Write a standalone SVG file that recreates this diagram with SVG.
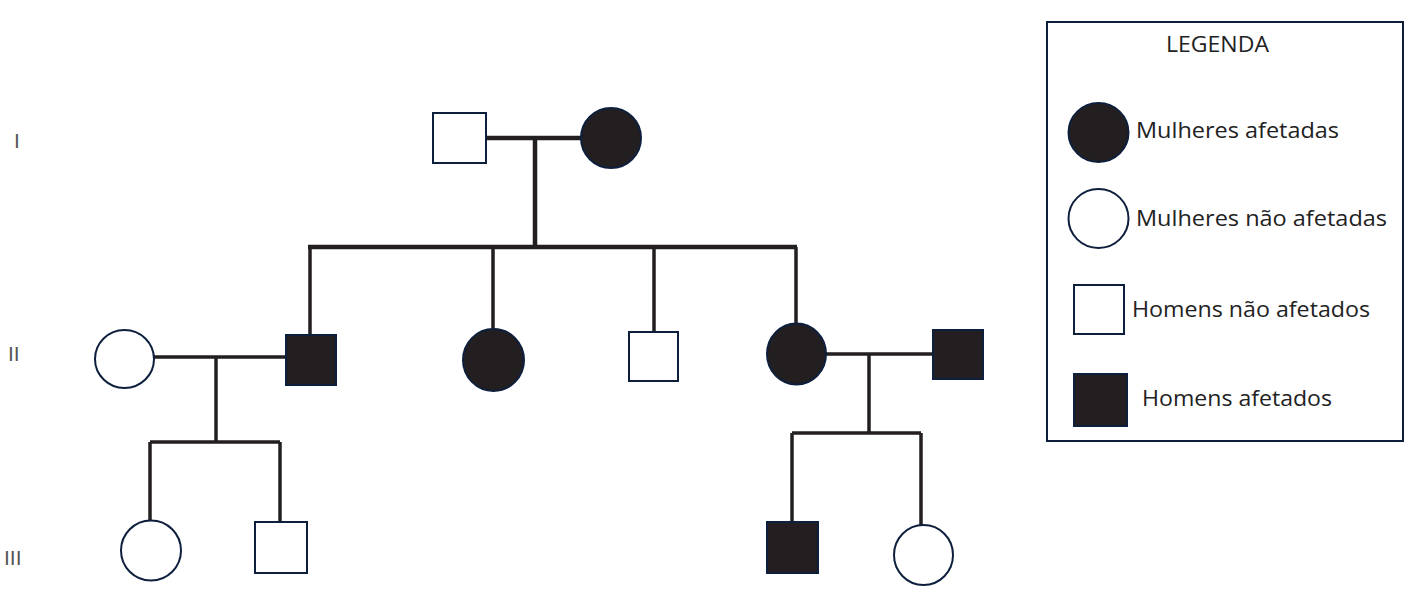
<svg xmlns="http://www.w3.org/2000/svg" width="1408" height="597" viewBox="0 0 1408 597">
<style>
.line{stroke:#231f20;stroke-width:3.5;fill:none;stroke-linecap:butt}
.thick{stroke-width:4.5}
.aff{fill:#231f20;stroke:#0d1f3c;stroke-width:2}
.un{fill:#ffffff;stroke:#0d1f3c;stroke-width:2}
.lbl{font-family:"Open Sans","Liberation Sans",sans-serif;font-size:21.5px;fill:#222}
.gen{font-family:"Liberation Sans",sans-serif;font-size:21px;fill:#555}
</style>
<rect width="1408" height="597" fill="#ffffff"/>
<g id="generations">
<text class="gen" x="14" y="148">I</text>
<text class="gen" x="8" y="361">II</text>
<text class="gen" x="4" y="565">III</text>
</g>
<g id="connectors">
<path class="line thick" d="M486 138H581M535 138V247M308 247H797"/>
<path class="line" d="M310 247V335M493 247V329M654 247V332M796 247V324"/>
<path class="line" d="M154 357H286M216 357V442M150 442H280M150 442V522M280 442V522"/>
<path class="line" d="M826 354H933M869 354V433M792 433H921M792 433V522M921 433V525"/>
</g>
<g id="I-1"><rect class="un" x="433" y="113" width="53" height="50"/></g>
<g id="I-2"><ellipse class="aff" cx="611" cy="138" rx="30" ry="30"/></g>
<g id="II-1"><ellipse class="un" cx="124.5" cy="359" rx="29.5" ry="29"/></g>
<g id="II-2"><rect class="aff" x="286" y="335" width="50" height="50"/></g>
<g id="II-3"><ellipse class="aff" cx="493.5" cy="360" rx="30.5" ry="31"/></g>
<g id="II-4"><rect class="un" x="629" y="332" width="49" height="49"/></g>
<g id="II-5"><ellipse class="aff" cx="796.5" cy="354" rx="29.5" ry="30.5"/></g>
<g id="II-6"><rect class="aff" x="933" y="330" width="50" height="49"/></g>
<g id="III-1"><ellipse class="un" cx="151" cy="550.5" rx="30" ry="30"/></g>
<g id="III-2"><rect class="un" x="255" y="522" width="52" height="51"/></g>
<g id="III-3"><rect class="aff" x="767" y="522" width="51" height="51"/></g>
<g id="III-4"><ellipse class="un" cx="923.5" cy="555" rx="29.5" ry="30"/></g>
<g id="legend">
<rect x="1047" y="22" width="356" height="419" fill="#ffffff" stroke="#0d1f3c" stroke-width="2"/>
<text class="lbl" x="1166" y="52" textLength="103" lengthAdjust="spacingAndGlyphs">LEGENDA</text>
<ellipse class="aff" cx="1098.5" cy="132.5" rx="30" ry="29.5"/>
<text class="lbl" x="1136" y="138" textLength="203" lengthAdjust="spacingAndGlyphs">Mulheres afetadas</text>
<ellipse class="un" cx="1098.5" cy="218.5" rx="30" ry="29.5"/>
<text class="lbl" x="1136" y="226" textLength="251" lengthAdjust="spacingAndGlyphs">Mulheres não afetadas</text>
<rect class="un" x="1074" y="285" width="50" height="49"/>
<text class="lbl" x="1132" y="317" textLength="238" lengthAdjust="spacingAndGlyphs">Homens não afetados</text>
<rect class="aff" x="1074" y="374" width="53" height="52"/>
<text class="lbl" x="1142" y="406" textLength="190" lengthAdjust="spacingAndGlyphs">Homens afetados</text>
</g>
</svg>
